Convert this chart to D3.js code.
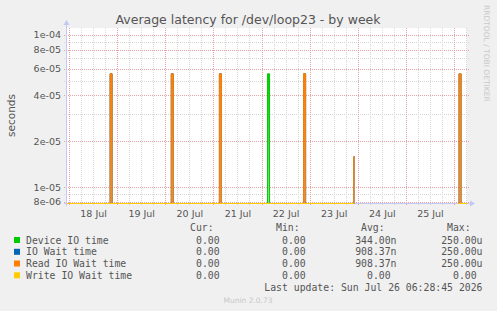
<!DOCTYPE html>
<html>
<head>
<meta charset="utf-8">
<script src="https://cdn.jsdelivr.net/npm/d3@7"></script>
<style>
  html, body { margin: 0; padding: 0; background: #f0f0f0; }
  svg { display: block; }
  text { font-family: "DejaVu Sans", sans-serif; }
  .mono { font-family: "DejaVu Sans Mono", monospace; white-space: pre; }
</style>
</head>
<body>
<div id="chart"></div>
<script>
const parseTime = d3.timeParse("%Y-%m-%d %H:%M");
const timeRange = ["2026-07-17 23:00", "2026-07-26 06:28"];

const seriesNames = ["Device IO time", "IO Wait time", "Read IO Wait time", "Write IO Wait time"];
const seriesColors = ["#00cc00", "#0066b3", "#ff8000", "#ffcc00"];

// [time, seconds]; null = no data (gap in the rrd)
const deviceIO = [
  ["2026-07-17 23:00", 0],
  ["2026-07-22 03:00", 5.55e-5],
  ["2026-07-22 04:00", 0],
  ["2026-07-23 22:00", 0],
  ["2026-07-23 22:30", null],
  ["2026-07-26 02:00", 0],
  ["2026-07-26 06:28", 0]
];
const ioWait = [
  ["2026-07-17 23:00", 0],
  ["2026-07-18 20:30", 5.55e-5],
  ["2026-07-18 21:30", 0],
  ["2026-07-20 03:00", 5.55e-5],
  ["2026-07-20 04:00", 0],
  ["2026-07-21 03:00", 5.55e-5],
  ["2026-07-21 04:00", 0],
  ["2026-07-22 21:00", 5.55e-5],
  ["2026-07-22 22:00", 0],
  ["2026-07-23 22:00", 1.58e-5],
  ["2026-07-23 22:30", 1.58e-5],
  ["2026-07-23 23:00", null],
  ["2026-07-26 02:00", 0],
  ["2026-07-26 02:30", 5.55e-5],
  ["2026-07-26 03:30", 0],
  ["2026-07-26 06:28", 0]
];
const readIOWait = ioWait.slice();
const writeIOWait = [
  ["2026-07-17 23:00", 0],
  ["2026-07-23 22:00", 0],
  ["2026-07-23 22:30", null],
  ["2026-07-26 02:00", 0],
  ["2026-07-26 06:28", 0]
];

const yTicks = [1e-4, 8e-5, 6e-5, 4e-5, 2e-5, 1e-5, 8e-6];
const yTickLabels = ["1e-04", "8e-05", "6e-05", "4e-05", "2e-05", "1e-05", "8e-06"];
const yMinorTicks = [9e-5, 7e-5, 5e-5, 3e-5, 9e-6];
const xTicks = ["2026-07-18 12:00", "2026-07-19 12:00", "2026-07-20 12:00", "2026-07-21 12:00",
                "2026-07-22 12:00", "2026-07-23 12:00", "2026-07-24 12:00", "2026-07-25 12:00"];
const xTickLabels = ["18 Jul", "19 Jul", "20 Jul", "21 Jul", "22 Jul", "23 Jul", "24 Jul", "25 Jul"];

const curValues = ["0.00 ", "0.00 ", "0.00 ", "0.00 "];
const minValues = ["0.00 ", "0.00 ", "0.00 ", "0.00 "];
const avgValues = ["344.00n", "908.37n", "908.37n", "0.00 "];
const maxValues = ["250.00u", "250.00u", "250.00u", "0.00 "];

// --- layout ---
const width = 497, height = 311;
const plot = { left: 67, right: 467, top: 28, bottom: 203 };
const gridMinor = "#d6d6d6";
const gridMajor = "#e7a3a3";
const axisColor = "#c4c8f4";
const textColor = "#555555";

const svg = d3.select("#chart").append("svg")
  .attr("width", width)
  .attr("height", height);

svg.append("rect").attr("width", width).attr("height", height).attr("fill", "#f0f0f0");
svg.append("rect")
  .attr("x", plot.left).attr("y", plot.top)
  .attr("width", plot.right - plot.left).attr("height", plot.bottom - plot.top)
  .attr("fill", "#ffffff");

const x = d3.scaleTime()
  .domain(timeRange.map(parseTime))
  .range([plot.left, plot.right]);

const y = d3.scaleLog()
  .domain([7.85e-6, 1.11e-4])
  .range([plot.bottom, plot.top]);

const yPos = v => (v > 0 ? y(v) : plot.bottom + 0.5);
const crisp = v => Math.round(v) + 0.5;

// grid: 6 hourly minor, midnight major
const hours6 = d3.timeHour.every(6).range(x.domain()[0], x.domain()[1]);
const grid = svg.append("g").attr("class", "grid");
grid.selectAll(".vminor")
  .data(hours6.filter(d => d.getHours() !== 0))
  .join("line")
  .attr("x1", d => crisp(x(d))).attr("x2", d => crisp(x(d)))
  .attr("y1", plot.top).attr("y2", plot.bottom + 3)
  .attr("stroke", gridMinor).attr("stroke-dasharray", "1,1");
grid.selectAll(".hminor")
  .data(yMinorTicks)
  .join("line")
  .attr("x1", plot.left - 3).attr("x2", plot.right + 3)
  .attr("y1", d => crisp(y(d))).attr("y2", d => crisp(y(d)))
  .attr("stroke", gridMinor).attr("stroke-dasharray", "1,1");
grid.selectAll(".vmajor")
  .data(hours6.filter(d => d.getHours() === 0))
  .join("line")
  .attr("x1", d => crisp(x(d))).attr("x2", d => crisp(x(d)))
  .attr("y1", plot.top).attr("y2", plot.bottom + 3)
  .attr("stroke", gridMajor).attr("stroke-dasharray", "1,1");
grid.selectAll(".hmajor")
  .data(yTicks)
  .join("line")
  .attr("x1", plot.left - 3).attr("x2", plot.right + 3)
  .attr("y1", d => crisp(y(d))).attr("y2", d => crisp(y(d)))
  .attr("stroke", gridMajor).attr("stroke-dasharray", "1,1");

// axes lines with arrows
svg.append("line")
  .attr("x1", plot.left - 0.5).attr("x2", plot.left - 0.5)
  .attr("y1", plot.bottom + 3).attr("y2", plot.top - 4)
  .attr("stroke", axisColor);
svg.append("path")
  .attr("d", `M${plot.left - 3.5},${plot.top - 3}L${plot.left + 2.5},${plot.top - 3}L${plot.left - 0.5},${plot.top - 8}Z`)
  .attr("fill", axisColor);
svg.append("line")
  .attr("x1", plot.left - 3).attr("x2", plot.right + 5)
  .attr("y1", plot.bottom + 0.5).attr("y2", plot.bottom + 0.5)
  .attr("stroke", axisColor);
svg.append("path")
  .attr("d", `M${plot.right + 3},${plot.bottom - 2.5}L${plot.right + 3},${plot.bottom + 3.5}L${plot.right + 8},${plot.bottom + 0.5}Z`)
  .attr("fill", axisColor);

// tick labels via d3 axes
const yAxis = d3.axisLeft(y)
  .tickValues(yTicks)
  .tickSize(0)
  .tickPadding(6)
  .tickFormat((d, i) => yTickLabels[i]);
const yG = svg.append("g")
  .attr("transform", `translate(${plot.left},0)`)
  .call(yAxis);

const xAxis = d3.axisBottom(x)
  .tickValues(xTicks.map(parseTime))
  .tickSize(0)
  .tickPadding(7)
  .tickFormat((d, i) => xTickLabels[i]);
const xG = svg.append("g")
  .attr("transform", `translate(0,${plot.bottom})`)
  .call(xAxis);

[yG, xG].forEach(g => {
  g.select(".domain").remove();
  g.selectAll("text")
    .attr("fill", textColor)
    .style("font-family", "'DejaVu Sans', sans-serif")
    .style("font-size", "9.5px");
});

// series
const defs = svg.append("defs");
defs.append("clipPath").attr("id", "plotclip")
  .append("rect")
  .attr("x", plot.left).attr("y", plot.top - 2)
  .attr("width", plot.right - plot.left + 1).attr("height", plot.bottom - plot.top + 4);

const fades = [["#00cc00", "#8ee28e"], ["#0066b3", "#7fa6c8"], ["#ff8000", "#c89866"], ["#ffcc00", "#ffe080"]];
fades.forEach((f, i) => {
  const grad = defs.append("linearGradient")
    .attr("id", "fade" + i)
    .attr("gradientUnits", "userSpaceOnUse")
    .attr("x1", 0).attr("x2", 0)
    .attr("y1", y(5.55e-5)).attr("y2", plot.bottom);
  grad.append("stop").attr("offset", "0%").attr("stop-color", f[0]);
  grad.append("stop").attr("offset", "100%").attr("stop-color", f[1]);
});

const series = [deviceIO, ioWait, readIOWait, writeIOWait];

const area = d3.area()
  .curve(d3.curveStepAfter)
  .defined(d => d[1] !== null)
  .x(d => x(parseTime(d[0])))
  .y0(plot.bottom + 0.5)
  .y1(d => yPos(d[1]));

const line = d3.line()
  .curve(d3.curveStepAfter)
  .defined(d => d[1] !== null)
  .x(d => x(parseTime(d[0])))
  .y(d => yPos(d[1]));

const dataG = svg.append("g").attr("clip-path", "url(#plotclip)");
series.forEach((s, i) => {
  dataG.append("path")
    .attr("d", area(s))
    .attr("fill", `url(#fade${i})`);
  dataG.append("path")
    .attr("d", line(s))
    .attr("fill", "none")
    .attr("stroke", seriesColors[i])
    .attr("stroke-width", 1);
});

// titles
svg.append("text")
  .attr("x", 248).attr("y", 24)
  .attr("text-anchor", "middle")
  .attr("fill", textColor)
  .style("font-size", "12.5px")
  .text("Average latency for /dev/loop23 - by week");

svg.append("text")
  .attr("transform", `translate(15,${(plot.top + plot.bottom) / 2}) rotate(-90)`)
  .attr("text-anchor", "middle")
  .attr("fill", textColor)
  .style("font-size", "10.5px")
  .text("seconds");

svg.append("text")
  .attr("transform", "translate(484,5) rotate(90)")
  .attr("fill", "#c8c8c8")
  .style("font-size", "7.5px")
  .text("RRDTOOL / TOBI OETIKER");

// legend
const legend = svg.append("g").attr("class", "legend");
const rowY = [243.5, 255.3, 267, 278.8];
const cols = [
  { label: "Cur:", hx: 190, vx: 225.5, vals: curValues },
  { label: "Min:", hx: 276, vx: 311.5, vals: minValues },
  { label: "Avg:", hx: 361, vx: 396.5, vals: avgValues },
  { label: "Max:", hx: 447, vx: 482.5, vals: maxValues }
];

cols.forEach(c => {
  legend.append("text")
    .attr("class", "mono")
    .attr("x", c.hx).attr("y", 230.5)
    .attr("fill", textColor)
    .style("font-size", "9.8px")
    .text(c.label);
  legend.selectAll(null)
    .data(c.vals)
    .join("text")
    .attr("class", "mono")
    .attr("x", c.vx).attr("y", (d, i) => rowY[i])
    .attr("text-anchor", "end")
    .attr("fill", textColor)
    .style("font-size", "9.8px")
    .text(d => d);
});

legend.selectAll("rect")
  .data(seriesNames)
  .join("rect")
  .attr("x", 14).attr("y", (d, i) => rowY[i] - 6.5)
  .attr("width", 6).attr("height", 6)
  .attr("fill", (d, i) => seriesColors[i]);

legend.selectAll(".name")
  .data(seriesNames)
  .join("text")
  .attr("class", "mono name")
  .attr("x", 26).attr("y", (d, i) => rowY[i])
  .attr("fill", textColor)
  .style("font-size", "9.8px")
  .text(d => d);

legend.append("text")
  .attr("class", "mono")
  .attr("x", 482.5).attr("y", 291)
  .attr("text-anchor", "end")
  .attr("fill", textColor)
  .style("font-size", "9.8px")
  .text("Last update: Sun Jul 26 06:28:45 2026");

svg.append("text")
  .attr("x", 248).attr("y", 303)
  .attr("text-anchor", "middle")
  .attr("fill", "#c8c8c8")
  .style("font-size", "7.5px")
  .text("Munin 2.0.73");
</script>
</body>
</html>
